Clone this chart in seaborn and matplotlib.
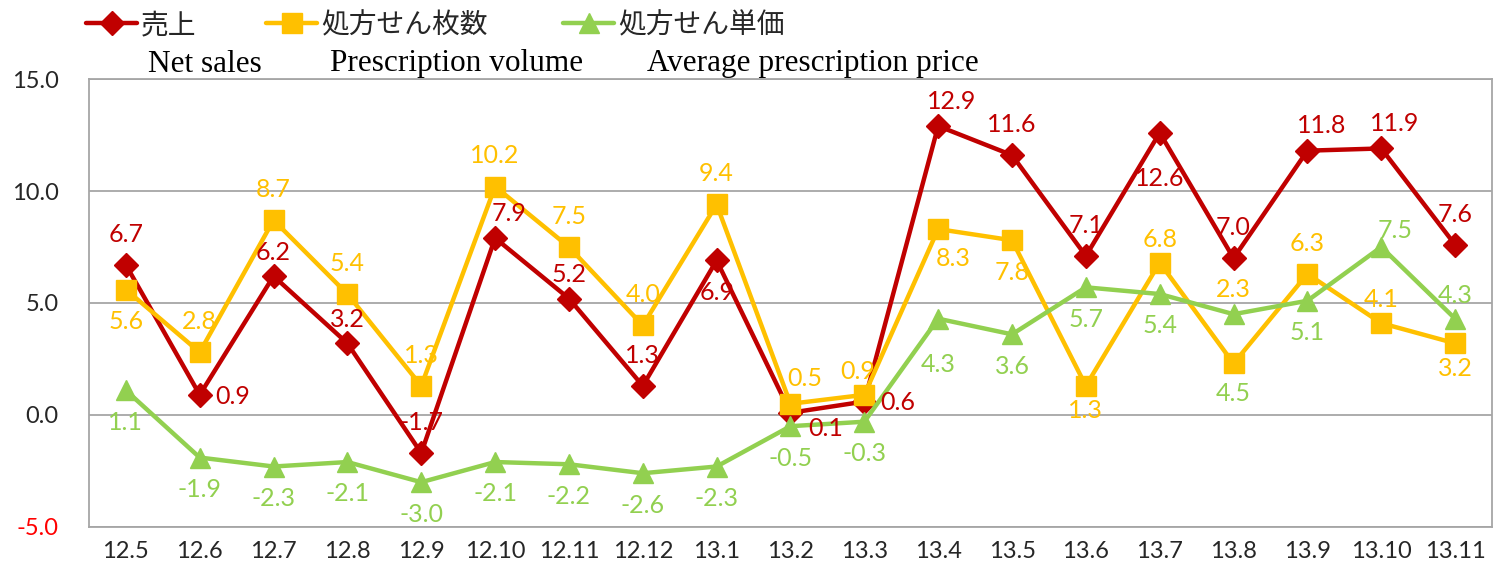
import matplotlib
matplotlib.use("Agg")
import matplotlib.pyplot as plt
import seaborn as sns
import pandas as pd
import numpy as np

categories = ["12.5", "12.6", "12.7", "12.8", "12.9", "12.10", "12.11", "12.12", "13.1",
              "13.2", "13.3", "13.4", "13.5", "13.6", "13.7", "13.8", "13.9", "13.10", "13.11"]
net_sales = [6.7, 0.9, 6.2, 3.2, -1.7, 7.9, 5.2, 1.3, 6.9, 0.1, 0.6, 12.9, 11.6, 7.1, 12.6, 7.0, 11.8, 11.9, 7.6]
rx_volume = [5.6, 2.8, 8.7, 5.4, 1.3, 10.2, 7.5, 4.0, 9.4, 0.5, 0.9, 8.3, 7.8, 1.3, 6.8, 2.3, 6.3, 4.1, 3.2]
rx_price = [1.1, -1.9, -2.3, -2.1, -3.0, -2.1, -2.2, -2.6, -2.3, -0.5, -0.3, 4.3, 3.6, 5.7, 5.4, 4.5, 5.1, 7.5, 4.3]

series_jp = ["売上", "処方せん枚数", "処方せん単価"]
series_en = ["Net sales", "Prescription volume", "Average prescription price"]
yticks = [-5.0, 0.0, 5.0, 10.0, 15.0]

# label placement codes
red_pos = ['t', 'r', 'tn', 'tn', 't', 'tr', 'tn', 't', 'b', 'rb', 'r', 'tr', 't', 't', 'B2', 't', 'tr', 'tr', 't']
org_pos = ['b', 't', 't', 't', 't', 't', 't', 't', 't', 'tr', 'tl', 'br', 'b', 'bn', 'tn', 'T', 't', 'tn', 'bn']
grn_pos = ['b', 'b', 'b', 'b', 'b', 'b', 'b', 'b', 'b', 'b', 'b', 'B2', 'b', 'b', 'b', 'B', 'b', 'tc', 'tn']

# offsets in points (dx, dy)
OFFS = {
    't': (0, 22), 'tn': (0, 17), 'tr': (10, 18), 'tl': (-5, 17), 'tc': (10, 12),
    'b': (0, -23), 'bn': (0, -18), 'br': (11, -21), 'B2': (0, -33), 'B': (0, -57),
    'T': (0, 53), 'r': (24, -1), 'rb': (25, -11),
}

sns.set_theme(style="white")
plt.rcParams['font.family'] = ['Lato', 'DejaVu Sans']

fig = plt.figure(figsize=(14.95, 5.75), dpi=100)
ax = fig.add_axes([0.0595, 0.0835, 0.9385, 0.7791])

x = np.arange(len(categories))
df = pd.DataFrame({"x": x, "net": net_sales, "vol": rx_volume, "price": rx_price})

specs = [
    ("net", "#C00000", "D", 12, red_pos, series_jp[0]),
    ("vol", "#FFC000", "s", 14, org_pos, series_jp[1]),
    ("price", "#92D050", "^", 15, grn_pos, series_jp[2]),
]

for col, color, marker, ms, pos, lab in specs:
    sns.lineplot(data=df, x="x", y=col, ax=ax, color=color, lw=3.2, marker=marker,
                 markersize=ms, markeredgecolor=color, markeredgewidth=1, label=lab,
                 legend=False, zorder=3)

for col, color, marker, ms, pos, lab in specs:
    vals = df[col].values
    for xi, v, p in zip(x, vals, pos):
        ax.annotate(f"{v:.1f}", (xi, v), xytext=OFFS[p], textcoords='offset points',
                    ha='center', va='center', color=color, fontsize=18, zorder=4)

ax.set_xlim(-0.5, len(categories) - 0.5)
ax.set_ylim(-5, 15)
ax.set_yticks(yticks)
ax.set_yticklabels([f"{t:.1f}" for t in yticks], fontsize=17, color="#262626")
ax.get_yticklabels()[0].set_color("#FF0000")
ax.set_xticks(x)
ax.set_xticklabels(categories, fontsize=17, color="#262626")
ax.tick_params(axis='x', length=0, pad=10)
ax.tick_params(axis='y', length=0, pad=22)
ax.set_xlabel("")
ax.set_ylabel("")
ax.grid(axis='y', color="#A6A6A6", lw=1.3)
ax.grid(axis='x', visible=False)
for s in ax.spines.values():
    s.set_color("#A6A6A6")
    s.set_linewidth(1.3)
ax.set_axisbelow(True)

handles, labels = ax.get_legend_handles_labels()
leg_x = [86, 266, 563]
for xp, h, l in zip(leg_x, handles, labels):
    fig.legend([h], [l], loc='center left', bbox_to_anchor=(xp / 1495, 1 - 25 / 575),
               frameon=False, handlelength=1.85, handletextpad=0.12, borderpad=0,
               borderaxespad=0,
               prop={'family': ['Noto Sans CJK JP', 'DejaVu Sans'], 'size': 20})

en_x = [148, 330, 647]
for xp, t in zip(en_x, series_en):
    fig.text(xp / 1495, 1 - 64 / 575, t, ha='left', va='center', fontsize=22.5,
             family=['Liberation Serif', 'DejaVu Serif'], color="#000000")

fig.savefig("out.png", dpi=100)
